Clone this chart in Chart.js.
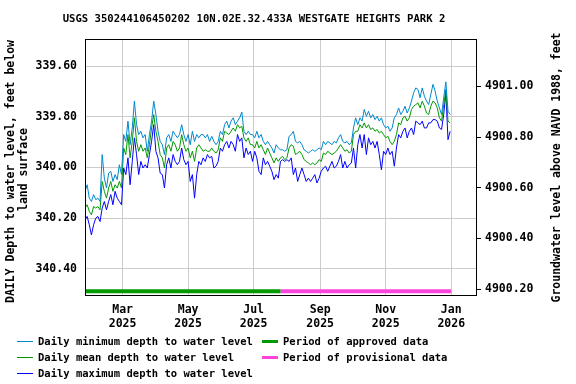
<!DOCTYPE html>
<html>
<head>
<meta charset="utf-8">
<script src="https://cdn.jsdelivr.net/npm/chart.js@4.4.1/dist/chart.umd.min.js"></script>
<style>
  body { margin: 0; background: #fff; }
  #wrap { width: 576px; height: 384px; }
</style>
</head>
<body>
<div id="wrap"><canvas id="gwChart" width="576" height="384"></canvas></div>
<script>
// Days are counted from 2025-01-25, one reading every 2 days
const stepDays = 2;

const minDepth = [
    340.094, 340.068, 340.121, 340.134, 340.107, 340.127, 340.121, 340.134, 339.949, 340.042,
    340.081, 340.022, 340.015, 340.055, 340.028, 340.048, 339.989, 340.028, 339.870, 339.897,
    339.817, 339.910, 339.844, 339.738, 339.831, 339.870, 339.857, 339.883, 339.870, 339.936,
    339.870, 339.817, 339.738, 339.791, 339.857, 339.897, 339.910, 339.949, 339.883, 339.870,
    339.897, 339.857, 339.870, 339.883, 339.870, 339.831, 339.870, 339.897, 339.870, 339.910,
    339.857, 339.897, 339.870, 339.883, 339.870, 339.870, 339.883, 339.870, 339.897, 339.877,
    339.897, 339.910, 339.897, 339.857, 339.870, 339.831, 339.817, 339.844, 339.817, 339.804,
    339.831, 339.817, 339.804, 339.781, 339.857, 339.870, 339.857, 339.870, 339.870, 339.883,
    339.857, 339.883, 339.870, 339.897, 339.910, 339.897, 339.910, 339.923, 339.943, 339.910,
    339.923, 339.930, 339.930, 339.936, 339.930, 339.877, 339.870, 339.857, 339.897, 339.903,
    339.897, 339.910, 339.930, 339.936, 339.943, 339.936, 339.930, 339.936, 339.930, 339.923,
    339.930, 339.897, 339.910, 339.897, 339.903, 339.910, 339.897, 339.903, 339.883, 339.870,
    339.897, 339.903, 339.897, 339.910, 339.903, 339.844, 339.804, 339.831, 339.804, 339.817,
    339.771, 339.798, 339.778, 339.804, 339.791, 339.811, 339.798, 339.817, 339.804, 339.831,
    339.844, 339.837, 339.857, 339.844, 339.804, 339.791, 339.765, 339.791, 339.778, 339.758,
    339.785, 339.765, 339.738, 339.705, 339.686, 339.692, 339.725, 339.686, 339.719, 339.738,
    339.752, 339.712, 339.672, 339.699, 339.738, 339.765, 339.791, 339.725, 339.662, 339.778,
    339.791
];

const meanDepth = [
    340.160, 340.147, 340.173, 340.187, 340.154, 340.160, 340.154, 340.167, 340.055, 340.094,
    340.121, 340.081, 340.055, 340.094, 340.068, 340.081, 340.055, 340.081, 339.923, 339.949,
    339.870, 339.962, 339.897, 339.804, 339.897, 339.936, 339.910, 339.936, 339.923, 339.962,
    339.910, 339.844, 339.791, 339.857, 339.897, 339.949, 339.962, 340.002, 339.923, 339.910,
    339.936, 339.897, 339.910, 339.936, 339.923, 339.870, 339.910, 339.936, 339.923, 339.962,
    339.936, 339.976, 339.923, 339.910, 339.923, 339.936, 339.930, 339.936, 339.936, 339.923,
    339.936, 339.943, 339.930, 339.883, 339.897, 339.857, 339.864, 339.870, 339.857, 339.844,
    339.857, 339.831, 339.844, 339.837, 339.883, 339.897, 339.883, 339.910, 339.910, 339.923,
    339.897, 339.923, 339.910, 339.930, 339.949, 339.923, 339.943, 339.962, 339.982, 339.962,
    339.976, 339.962, 339.956, 339.969, 339.962, 339.923, 339.910, 339.916, 339.949, 339.943,
    339.936, 339.949, 339.969, 339.976, 339.982, 339.989, 339.982, 339.989, 339.982, 339.969,
    339.976, 339.943, 339.949, 339.936, 339.943, 339.949, 339.943, 339.936, 339.923, 339.910,
    339.923, 339.936, 339.930, 339.943, 339.936, 339.870, 339.857, 339.857, 339.831, 339.844,
    339.824, 339.844, 339.831, 339.850, 339.844, 339.857, 339.850, 339.864, 339.857, 339.870,
    339.883, 339.877, 339.897, 339.910, 339.897, 339.870, 339.824, 339.831, 339.804, 339.798,
    339.817, 339.804, 339.771, 339.758, 339.752, 339.745, 339.765, 339.738, 339.758, 339.785,
    339.791, 339.758, 339.738, 339.745, 339.765, 339.804, 339.817, 339.752, 339.692, 339.817,
    339.824
];

const maxDepth = [
    340.206, 340.193, 340.226, 340.266, 340.226, 340.200, 340.193, 340.213, 340.160, 340.134,
    340.167, 340.134, 340.107, 340.147, 340.094, 340.121, 340.134, 340.147, 340.002, 340.028,
    339.962, 340.068, 339.976, 339.883, 339.949, 340.028, 339.976, 340.002, 339.989, 340.002,
    339.949, 339.897, 339.831, 339.936, 339.962, 340.022, 340.028, 340.081, 339.989, 339.962,
    340.002, 339.949, 339.976, 339.989, 339.976, 339.923, 339.969, 339.989, 339.976, 340.055,
    340.028, 340.121, 340.028, 339.976, 339.989, 339.962, 339.976, 339.949, 339.962, 339.956,
    340.002, 339.995, 339.976, 339.923, 339.936, 339.910, 339.897, 339.923, 339.897, 339.910,
    339.936, 339.870, 339.897, 339.883, 339.962, 339.923, 339.949, 339.936, 339.976, 339.936,
    339.962, 340.015, 340.028, 339.962, 339.989, 339.976, 339.995, 340.015, 340.048, 340.028,
    340.042, 339.976, 339.969, 339.976, 339.969, 339.976, 339.962, 340.028, 340.002, 340.055,
    340.028, 340.002, 340.028, 340.055, 340.042, 340.055, 340.042, 340.028, 340.061, 340.042,
    340.015, 340.002, 339.995, 340.015, 339.995, 339.976, 340.002, 339.995, 339.976, 339.949,
    340.002, 339.976, 340.002, 339.989, 339.982, 339.923, 340.002, 339.910, 339.870, 339.923,
    339.870, 339.949, 339.883, 339.910, 339.897, 339.923, 339.897, 339.949, 340.009, 339.936,
    339.949, 339.923, 339.949, 339.936, 339.995, 339.923, 339.870, 339.883, 339.857, 339.844,
    339.883, 339.857, 339.844, 339.870, 339.817, 339.824, 339.831, 339.817, 339.844, 339.844,
    339.824, 339.824, 339.811, 339.811, 339.817, 339.844, 339.850, 339.791, 339.705, 339.890,
    339.857
];

// approval periods, in days from 2025-01-25
const approvedPeriod = [0, 182];
const provisionalPeriod = [182, 341];
const periodBarDepth = 340.488;

// x ticks (first of month)
const tickDays = [35, 96, 157, 219, 280, 341];
const tickLabels = [['Mar', '2025'], ['May', '2025'], ['Jul', '2025'], ['Sep', '2025'], ['Nov', '2025'], ['Jan', '2026']];

const depthTicks = [339.6, 339.8, 340.0, 340.2, 340.4];
const elevTicks = [4900.2, 4900.4, 4900.6, 4900.8, 4901.0];
const landSurfaceElev = 5240.68;

const depthMin = 339.493;
const depthMax = 340.507;

const titleText = 'USGS 350244106450202 10N.02E.32.433A WESTGATE HEIGHTS PARK 2';
const FONT = '"DejaVu Sans Mono", "Liberation Mono", monospace';

function toPoints(arr) {
    return arr.map((v, i) => ({ x: i * stepDays, y: v }));
}

const datasets = [
    {
        label: 'Daily minimum depth to water level',
        data: toPoints(minDepth),
        borderColor: '#0088cc',
        borderWidth: 1,
        pointRadius: 0,
        legendKind: 'line', legendCol: 0, legendRow: 0
    },
    {
        label: 'Daily mean depth to water level',
        data: toPoints(meanDepth),
        borderColor: '#009900',
        borderWidth: 1,
        pointRadius: 0,
        legendKind: 'line', legendCol: 0, legendRow: 1
    },
    {
        label: 'Daily maximum depth to water level',
        data: toPoints(maxDepth),
        borderColor: '#0000ff',
        borderWidth: 1,
        pointRadius: 0,
        legendKind: 'line', legendCol: 0, legendRow: 2
    },
    {
        label: 'Period of approved data',
        data: approvedPeriod.map(d => ({ x: d, y: periodBarDepth })),
        borderColor: '#009900',
        borderWidth: 4,
        pointRadius: 0,
        legendKind: 'bar', legendCol: 1, legendRow: 0
    },
    {
        label: 'Period of provisional data',
        data: provisionalPeriod.map(d => ({ x: d, y: periodBarDepth })),
        borderColor: '#ff44dd',
        borderWidth: 4,
        pointRadius: 0,
        legendKind: 'bar', legendCol: 1, legendRow: 1
    }
];

// frame, title, axis titles and legend
const decorPlugin = {
    id: 'decor',
    afterDraw(chart) {
        const ctx = chart.ctx;
        const a = chart.chartArea;
        ctx.save();
        ctx.strokeStyle = '#000';
        ctx.lineWidth = 1;
        ctx.strokeRect(a.left + 0.5, a.top + 0.5, a.right - a.left - 1, a.bottom - a.top - 1);

        ctx.fillStyle = '#000';
        ctx.textAlign = 'center';
        ctx.textBaseline = 'middle';
        ctx.font = 'bold 10.6px ' + FONT;
        ctx.fillText(titleText, 254, 19);

        const midY = (a.top + a.bottom) / 2;
        ctx.font = 'bold 11.5px ' + FONT;
        ctx.save();
        ctx.translate(11, midY + 4);
        ctx.rotate(-Math.PI / 2);
        ctx.fillText('DAILY Depth to water level, feet below', 0, 0);
        ctx.restore();
        ctx.save();
        ctx.translate(24, midY + 2);
        ctx.rotate(-Math.PI / 2);
        ctx.fillText('land surface', 0, 0);
        ctx.restore();
        ctx.save();
        ctx.translate(557, midY);
        ctx.rotate(-Math.PI / 2);
        ctx.fillText('Groundwater level above NAVD 1988, feet', 0, 0);
        ctx.restore();

        // legend
        ctx.font = 'bold 10.5px ' + FONT;
        ctx.textAlign = 'left';
        const colX = [17, 262];
        chart.data.datasets.forEach(ds => {
            const x = colX[ds.legendCol];
            const y = 341 + ds.legendRow * 16;
            ctx.strokeStyle = ds.borderColor;
            ctx.lineWidth = ds.legendKind === 'bar' ? 3 : 1;
            ctx.beginPath();
            ctx.moveTo(x, y + 0.5);
            ctx.lineTo(x + 16, y + 0.5);
            ctx.stroke();
            ctx.fillStyle = '#000';
            ctx.fillText(ds.label, x + 21, y + 1);
        });
        ctx.restore();
    }
};

const ctx = document.getElementById('gwChart').getContext('2d');
const gwChart = new Chart(ctx, {
    type: 'line',
    data: { datasets: datasets },
    options: {
        responsive: false,
        animation: false,
        layout: { padding: { top: 39, left: 0, right: 0, bottom: 0 } },
        elements: { line: { tension: 0 } },
        plugins: {
            legend: { display: false },
            title: { display: false },
            tooltip: { enabled: false }
        },
        scales: {
            x: {
                type: 'linear',
                min: 0,
                max: 365,
                afterBuildTicks: scale => {
                    scale.ticks = tickDays.map(v => ({ value: v }));
                },
                afterFit: scale => { scale.height = 88; },
                border: { display: false },
                grid: { color: '#cccccc', drawTicks: false },
                ticks: {
                    padding: 7,
                    color: '#000',
                    maxRotation: 0,
                    autoSkip: false,
                    font: { family: FONT, size: 11.5, weight: 'bold' },
                    callback: value => tickLabels[tickDays.indexOf(value)]
                }
            },
            y: {
                position: 'left',
                reverse: true,
                min: depthMin,
                max: depthMax,
                afterBuildTicks: scale => {
                    scale.ticks = depthTicks.map(v => ({ value: v }));
                },
                afterFit: scale => { scale.width = 85; },
                border: { display: false },
                grid: { color: '#cccccc', drawTicks: false },
                ticks: {
                    padding: 8,
                    color: '#000',
                    font: { family: FONT, size: 11.5, weight: 'bold' },
                    callback: value => value.toFixed(2)
                }
            },
            elev: {
                position: 'right',
                min: landSurfaceElev - depthMax,
                max: landSurfaceElev - depthMin,
                afterBuildTicks: scale => {
                    scale.ticks = elevTicks.map(v => ({ value: v }));
                },
                afterFit: scale => { scale.width = 99; },
                border: { display: false },
                grid: { drawOnChartArea: false, color: '#000', tickLength: 4 },
                ticks: {
                    padding: 4,
                    color: '#000',
                    font: { family: FONT, size: 11.5, weight: 'bold' },
                    callback: value => value.toFixed(2)
                }
            }
        }
    },
    plugins: [decorPlugin]
});
</script>
</body>
</html>
